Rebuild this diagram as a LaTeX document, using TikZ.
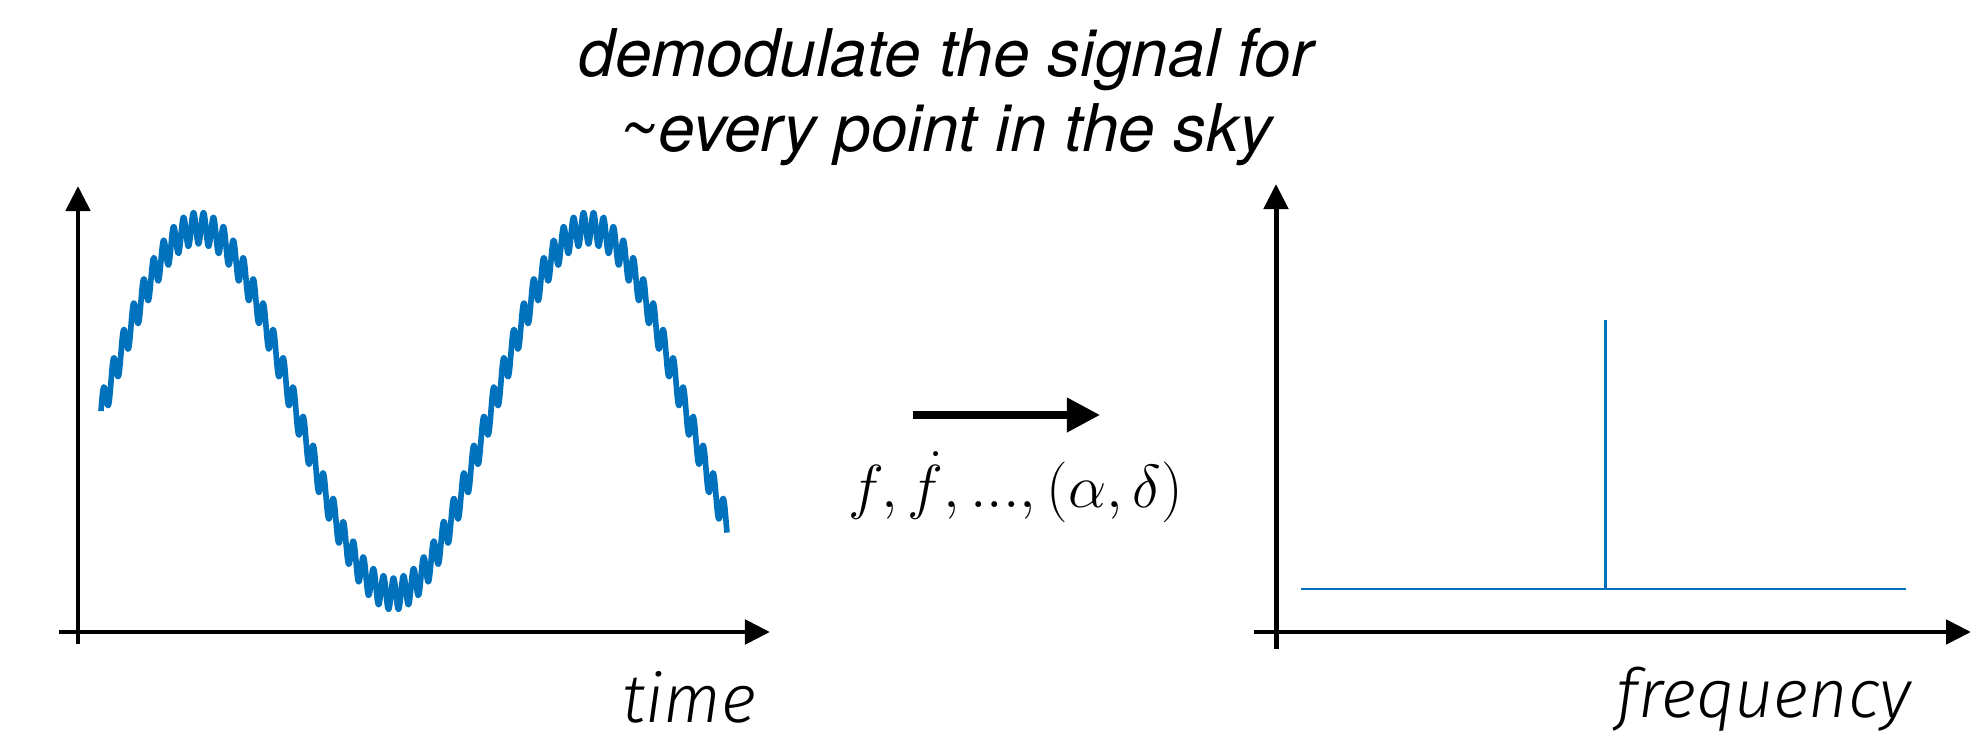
\documentclass[tikz,border=0pt]{standalone}
\usepackage{fontspec}
\usepackage{amsmath}
\usepackage{xcolor}
\usetikzlibrary{arrows.meta,positioning}
\setmainfont{TeX Gyre Heros}
\IfFontExistsTF{Fira Sans Light Italic}
  {\newfontfamily\ejefont{Fira Sans Light Italic}}
  {\IfFontExistsTF{Lato Light Italic}
    {\newfontfamily\ejefont{Lato Light Italic}}
    {\newfontfamily\ejefont{TeX Gyre Heros Italic}}}
\definecolor{azul}{RGB}{0,114,189}
\tikzset{
  ejes/.style={line width=1.42pt,-{Triangle[length=2.5mm,width=2.4mm]}},
  senal/.style={azul,line width=1.6pt,line join=round},
  espectro/.style={azul,line width=0.85pt},
  flecha/.style={line width=2pt,-{Triangle[length=3.3mm,width=3.3mm]}},
  titulo/.style={inner sep=0,align=center,font=\fontsize{18.7}{21.6}\selectfont\itshape},
  etiqueta/.style={inner sep=0,font=\fontsize{19.3}{24}\selectfont\ejefont}
}

\begin{document}
\begin{tikzpicture}[x=0.01cm,y=-0.01cm]
\useasboundingbox (0,0) rectangle (1972,737);
% title
\node[titulo,anchor=base] (titulo) at (946,152) {demodulate the signal for\\\textasciitilde every point in the sky};
% time domain
\draw[ejes] (78,644) -- (78,186);
\draw[ejes] (59,632) -- (770,632);
\draw[senal] plot[domain=101:727,samples=1300]
  (\x,{411-183*sin(((\x-101)/390)*360)-16*sin(36*mod(\x-101,10))});
\node[etiqueta,anchor=base east] (tiempo) at (757,722) {time};
% arrow and parameters
\coordinate (f0) at (913,415);
\coordinate (f1) at (1100,415);
\draw[flecha] (f0) -- (f1);
\node[inner sep=0,anchor=base,font=\fontsize{17.6}{20}\selectfont] (params) at (1016,508) {$f,\dot{f},...,(\alpha,\delta)$};
% frequency domain
\draw[ejes] (1276,649) -- (1276,184);
\draw[ejes] (1254,632) -- (1971,632);
\coordinate (b0) at (1301,589);
\coordinate (b1) at (1906,589);
\coordinate (pie) at (1605,589);
\coordinate (pico) at (1605,320);
\draw[espectro] (b0) -- (b1);
\draw[espectro] (pie) -- (pico);
\node[etiqueta,anchor=base east] (frec) at (1912,718) {frequency};
\end{tikzpicture}
\end{document}
